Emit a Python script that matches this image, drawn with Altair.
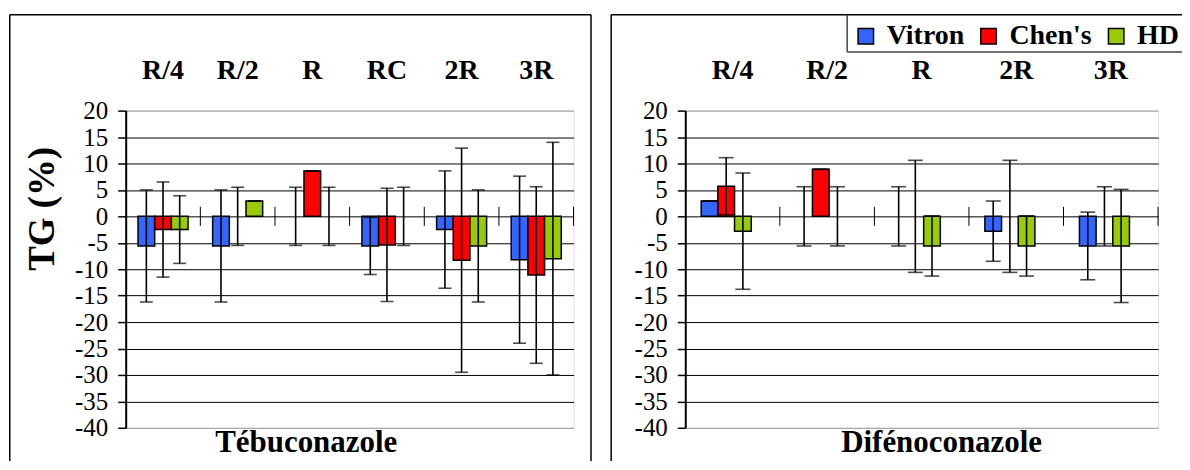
import altair as alt
import pandas as pd

SERIF = "Liberation Serif, Times New Roman, Times, serif"

series = ["Vitron", "Chen's", "HD"]
series_colors = ["#3366FF", "#FF0000", "#99CC00"]

tebu_cats = ["R/4", "R/2", "R", "RC", "2R", "3R"]
tebu_vitron = [-5.6, -5.6, 0.0, -5.6, -2.5, -8.2]
tebu_vitron_err = [10.6, 10.6, 5.5, 5.4, 11.1, 15.8]
tebu_chens = [-2.5, 0.0, 8.6, -5.4, -8.3, -11.1]
tebu_chens_err = [9.0, 5.5, 0.0, 10.7, 21.2, 16.7]
tebu_hd = [-2.5, 2.9, 0.0, 0.0, -5.6, -8.0]
tebu_hd_err = [6.4, 0.0, 5.5, 5.5, 10.6, 22.0]

dife_cats = ["R/4", "R/2", "R", "2R", "3R"]
dife_vitron = [2.9, 0.0, 0.0, -2.8, -5.6]
dife_vitron_err = [0.0, 5.6, 5.6, 5.7, 6.4]
dife_chens = [5.7, 8.9, 0.0, 0.0, 0.0]
dife_chens_err = [5.4, 0.0, 10.6, 10.6, 5.6]
dife_hd = [-2.8, 0.0, -5.6, -5.6, -5.6]
dife_hd_err = [11.0, 5.6, 5.7, 5.7, 10.7]

y_ticks = list(range(-40, 25, 5))
y_title = "TG (%)"
titles = ["Tébuconazole", "Difénoconazole"]

PLOT_H = 318
TITLE_Y = 342
FRAME_BOTTOM = 380
FRAME_RIGHT = 560
ONE = pd.DataFrame({"k": [0]})


def seg(x1, y1, x2, y2, color="black", w=1.5):
    return alt.Chart(ONE).mark_rule(color=color, strokeWidth=w).encode(
        x=alt.value(x1), x2=alt.value(x2), y=alt.value(y1), y2=alt.value(y2)
    )


def panel(cats, vals, errs, width, pad, legend, ytitle, title, title_x, cap, frame):
    rows = []
    for s, vs, es in zip(series, vals, errs):
        for c, v, e in zip(cats, vs, es):
            rows.append({"cat": c, "series": s, "value": v, "low": v - e, "high": v + e})
    df = pd.DataFrame(rows)

    xscale = alt.Scale(domain=cats, paddingInner=pad, paddingOuter=pad / 2)
    xaxis = alt.Axis(
        orient="top", labelAngle=0, labelFont=SERIF, labelFontSize=28,
        labelFontWeight="bold", labelColor="black", domain=False, ticks=False,
        tickSize=0, labelPadding=32, labelBaseline="alphabetic", grid=False,
    )
    xenc = alt.X("cat:N", sort=cats, title=None, scale=xscale, axis=xaxis)
    xenc_end = alt.X("cat:N", sort=cats, title=None, scale=xscale, axis=xaxis, bandPosition=1)
    xoff = alt.XOffset("series:N", sort=series,
                       scale=alt.Scale(domain=series, paddingInner=0, paddingOuter=0))

    yscale = alt.Scale(domain=[-40, 20], nice=False, zero=False)
    ax_kw = dict(
        values=y_ticks, labelFont=SERIF, labelFontSize=25, labelColor="black",
        labelExpr="'' + datum.value",
        labelOverlap=False, tickColor="black", tickSize=8, tickWidth=1.5,
        domainColor="black", domainWidth=2,
        gridColor={"condition": {"test": "datum.value == 20 || datum.value == -40",
                                 "value": "#999999"}, "value": "black"},
        gridWidth=1, labelPadding=10,
    )
    if ytitle:
        ax_kw.update(titleFont=SERIF, titleFontSize=37, titleFontWeight="bold",
                     titleColor="black", titleAngle=270, titleX=-72, titleY=98,
                     titleAlign="center", titleBaseline="alphabetic")
    yaxis = alt.Axis(**ax_kw)

    def Y(field):
        return alt.Y(field, scale=yscale, axis=yaxis, title=ytitle)

    color = alt.Color("series:N", scale=alt.Scale(domain=series, range=series_colors),
                      legend=legend)

    base = alt.Chart(df)
    bars = base.transform_filter("datum.value != 0").mark_bar(
        stroke="black", strokeWidth=1.5
    ).encode(x=xenc, xOffset=xoff, y=Y("value:Q"), y2=alt.Y2Datum(0), color=color)
    err = base.mark_rule(color="black", strokeWidth=1.6).encode(
        x=xenc, xOffset=xoff, y=Y("low:Q"), y2="high:Q")
    cap_lo = base.mark_tick(color="black", thickness=1.6, size=cap, orient="horizontal").encode(
        x=xenc, xOffset=xoff, y=Y("low:Q"))
    cap_hi = base.mark_tick(color="black", thickness=1.6, size=cap, orient="horizontal").encode(
        x=xenc, xOffset=xoff, y=Y("high:Q"))

    step = width / len(cats)
    div = alt.Chart(pd.DataFrame({"cat": cats})).mark_rule(
        color="black", strokeWidth=1, xOffset=pad * step / 2
    ).encode(
        x=xenc_end,
        y=alt.YDatum(1.8, scale=yscale, axis=yaxis, title=ytitle),
        y2=alt.Y2Datum(-1.8),
    )

    ttl = alt.Chart(ONE).mark_text(
        text=title, font=SERIF, fontSize=31, fontWeight="bold", color="black",
        baseline="alphabetic", align="center"
    ).encode(x=alt.value(title_x), y=alt.value(TITLE_Y))

    layers = [bars, err, cap_lo, cap_hi, div, ttl] + frame
    return alt.layer(*layers).properties(width=width, height=PLOT_H)


legend = alt.Legend(
    orient="none", legendX=728, legendY=-88.5, direction="horizontal", title=None,
    symbolType="square", symbolSize=240, symbolStrokeColor="black",
    symbolStrokeWidth=1.5, symbolOpacity=1, labelFont=SERIF, labelFontSize=28,
    labelFontWeight="bold", labelColor="black", labelOffset=7, columnPadding=10,
    padding=0, labelLimit=0,
)

left_frame = [
    seg(-116.25, -96, -116.25, FRAME_BOTTOM),
    seg(-116.25, -96, 466.5, -96),
    seg(466.5, -96, 466.5, FRAME_BOTTOM),
]
right_frame = [
    seg(-74.3, -96, -74.3, FRAME_BOTTOM),
    seg(-74.3, -96, FRAME_RIGHT, -96),
    seg(162.3, -96, 162.3, -58.7, color="#444444"),
    seg(162.3, -58.7, FRAME_RIGHT, -58.7, color="#444444"),
]

left = panel(tebu_cats, [tebu_vitron, tebu_chens, tebu_hd],
             [tebu_vitron_err, tebu_chens_err, tebu_hd_err],
             449, 0.33, legend, y_title, titles[0], 181, 13, left_frame)
right = panel(dife_cats, [dife_vitron, dife_chens, dife_hd],
              [dife_vitron_err, dife_chens_err, dife_hd_err],
              474, 0.337, legend, None, titles[1], 257, 15, right_frame)

chart = alt.hconcat(left, right, spacing=112, bounds="flush").properties(
    padding={"left": 0, "top": 4.3, "right": -64, "bottom": -31}
).configure_view(stroke="#999999", strokeWidth=1.5).configure(background="white")

chart.save("out.html", embed_options={"renderer": "svg", "actions": False})
